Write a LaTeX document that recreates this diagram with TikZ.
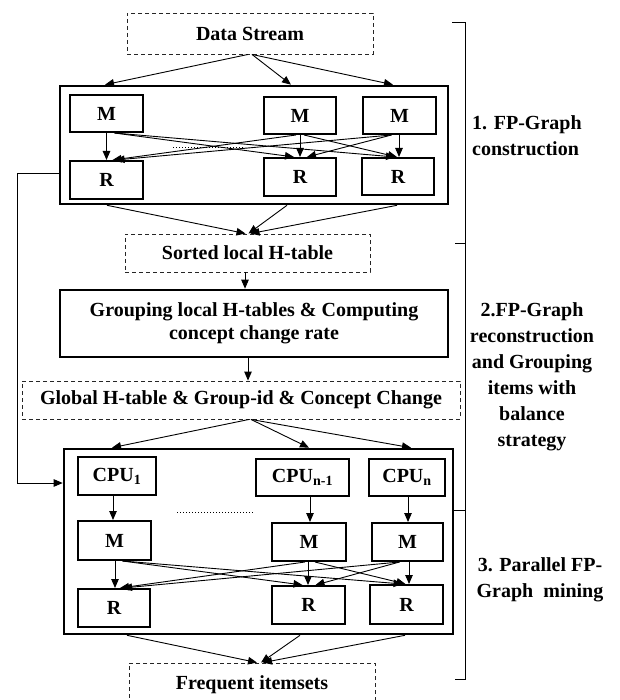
\documentclass[tikz,border=0pt]{standalone}
\usepackage{fontspec}
\setmainfont{Liberation Serif}
\usetikzlibrary{arrows.meta,calc}

\tikzset{
  dbox/.style={draw=black!85, line width=0.9pt, dash pattern=on 4pt off 3pt,
    inner sep=0pt, font=\fontsize{20}{24}\selectfont\bfseries},
  bigbox/.style={draw=black, line width=2.6pt, inner sep=0pt,
    font=\fontsize{20}{23}\selectfont\bfseries, align=center},
  unit/.style={draw=black, line width=2pt, inner sep=0pt,
    font=\fontsize{20}{24}\selectfont\bfseries},
  arr/.style={-{Triangle[length=9pt,width=7.5pt]}, line width=0.9pt, black},
  link/.style={line width=0.9pt, black},
  phase/.style={inner sep=0pt, font=\fontsize{20}{26}\selectfont\bfseries}
}

\begin{document}
\begin{tikzpicture}[x=1pt, y=-1pt]
\clip (0,0) rectangle (619,700);
\fill[white] (0,0) rectangle (619,700);

% ---- stage 1: FP-Graph construction ----
\node[dbox, minimum width=246, minimum height=41] (ds) at (250,33.5) {Data Stream};
\node[bigbox, minimum width=388, minimum height=118] (box1) at (254,145) {};
\node[unit, minimum width=73, minimum height=37] (m1) at (106.5,113.5) {M};
\node[unit, minimum width=72, minimum height=37] (m2) at (300,115.5) {M};
\node[unit, minimum width=73, minimum height=37] (m3) at (399.5,115.5) {M};
\node[unit, minimum width=73, minimum height=38] (r1) at (106.5,180) {R};
\node[unit, minimum width=72, minimum height=38] (r2) at (300,177) {R};
\node[unit, minimum width=72, minimum height=37] (r3) at (398,176.5) {R};
\draw[dotted, line width=1pt] (173,148) -- (245,148);

\draw[arr] ($(ds.south)+(-2,0)$) -- (105,0 |- box1.north);
\draw[arr] ($(ds.south)+(2,0)$) -- (291,0 |- box1.north);
\draw[arr] ($(ds.south)+(2,0)$) -- (393,0 |- box1.north);

% map outputs to every reducer
\draw[arr] (m1.south) -- (r1.north);
\draw[arr] (m2.south) -- (r2.north);
\draw[arr] (399,0 |- m3.south) -- (399,0 |- r3.north);
\draw[arr] ($(m1.south)+(8,0)$) -- ($(r2.north)+(-6,0)$);
\draw[arr] ($(m1.south)+(8,0)$) -- ($(r3.north)+(-3,0)$);
\draw[arr] ($(m2.south)+(-4,0)$) -- ($(r1.north)+(6,0)$);
\draw[arr] ($(m2.south)+(4,0)$) -- ($(r3.north)+(-1,0)$);
\draw[arr] ($(m3.south)+(-8,0)$) -- ($(r1.north)+(9,0)$);
\draw[arr] ($(m3.south)+(-8,0)$) -- ($(r2.north)+(7,0)$);

\node[dbox, minimum width=245, minimum height=38] (sorted) at (247.5,253) {Sorted local H-table};
\draw[arr] (107,0 |- box1.south) -- ($(sorted.north)+(-2,0)$);
\draw[arr] (287,0 |- box1.south) -- ($(sorted.north)+(1,0)$);
\draw[arr] (397,0 |- box1.south) -- ($(sorted.north)+(3,0)$);

% ---- stage 2: reconstruction and grouping ----
\node[bigbox, minimum width=388, minimum height=67] (group) at (254,323.5)
  {Grouping local H-tables \& Computing\\concept change rate};
\draw[arr] (245,0 |- sorted.south) -- (245,0 |- group.north);
\node[dbox, minimum width=438, minimum height=38] (global) at (241,400)
  {Global H-table \& Group-id \& Concept Change};
\draw[arr] (248,0 |- group.south) -- (248,0 |- global.north);

% ---- stage 3: parallel mining ----
\node[bigbox, minimum width=389, minimum height=185] (box3) at (258.5,541.5) {};
\draw[arr] ($(global.south)+(8,0)$) -- (112,0 |- box3.north);
\draw[arr] ($(global.south)+(10,0)$) -- (309,0 |- box3.north);
\draw[arr] ($(global.south)+(10,0)$) -- (411,0 |- box3.north);

\node[unit, minimum width=78, minimum height=38] (cpu1) at (117,476) {CPU\textsubscript{1}};
\node[unit, minimum width=93, minimum height=37] (cpu2) at (302.5,477.5) {CPU\textsubscript{n-1}};
\node[unit, minimum width=76, minimum height=37] (cpu3) at (407,477.5) {CPU\textsubscript{n}};
\node[unit, minimum width=73, minimum height=39] (mb1) at (114.5,540.5) {M};
\node[unit, minimum width=74, minimum height=38] (mb2) at (309,542) {M};
\node[unit, minimum width=71, minimum height=38] (mb3) at (407.5,542) {M};
\node[unit, minimum width=72, minimum height=38] (rb1) at (114,608) {R};
\node[unit, minimum width=73, minimum height=38] (rb2) at (308.5,605) {R};
\node[unit, minimum width=73, minimum height=39] (rb3) at (406.5,604.5) {R};
\draw[dotted, line width=1pt] (177,512) -- (253,512);

\draw[arr] (113,0 |- cpu1.south) -- (113,0 |- mb1.north);
\draw[arr] (310,0 |- cpu2.south) -- (310,0 |- mb2.north);
\draw[arr] (408,0 |- cpu3.south) -- (408,0 |- mb3.north);

\draw[arr] (115,0 |- mb1.south) -- (115,0 |- rb1.north);
\draw[arr] (308,0 |- mb2.south) -- (308,0 |- rb2.north);
\draw[arr] (409,0 |- mb3.south) -- (409,0 |- rb3.north);
\draw[arr] ($(mb1.south)+(8,0)$) -- ($(rb2.north)+(-6,0)$);
\draw[arr] ($(mb1.south)+(8,0)$) -- ($(rb3.north)+(-4,0)$);
\draw[arr] ($(mb2.south)+(-4,0)$) -- ($(rb1.north)+(6,0)$);
\draw[arr] ($(mb2.south)+(6,0)$) -- ($(rb3.north)+(-1,0)$);
\draw[arr] ($(mb3.south)+(-8,0)$) -- ($(rb1.north)+(9,0)$);
\draw[arr] ($(mb3.south)+(-8,0)$) -- ($(rb2.north)+(7,0)$);

\node[dbox, minimum width=246, minimum height=44] (freq) at (252,685) {Frequent itemsets};
\draw[arr] (127,0 |- box3.south) -- ($(freq.north)+(5,0)$);
\draw[arr] (300,0 |- box3.south) -- ($(freq.north)+(9,0)$);
\draw[arr] (405,0 |- box3.south) -- ($(freq.north)+(11,0)$);

% feedback of the graph into the mining stage
\coordinate (fbtop) at (17,173);
\coordinate (fbbot) at (17,483);
\draw[arr] (box1.west |- fbtop) -- (fbtop) -- (fbbot) -- (box3.west |- fbbot);

% phase bracket and labels
\coordinate (b0) at (465,22);
\coordinate (b1) at (465,243);
\coordinate (b2) at (465,510);
\coordinate (b3) at (465,679);
\draw[link] ($(b0)+(-13,0)$) -- (b0) -- (b3) -- ($(b3)+(-10,0)$);
\draw[link] ($(b1)+(-10,0)$) -- (b1);
\draw[link] ($(b2)+(-12,0)$) -- (b2);

\node[phase, anchor=west, align=left] (lab1) at (472,135.5) {1. FP-Graph\\construction};
\node[phase, align=center] (lab2) at (532,376.5)
  {2.FP-Graph\\reconstruction\\and Grouping\\items with\\balance\\strategy};
\node[phase, align=center] (lab3) at (540,580) {3. Parallel FP-\\Graph~~mining};
\end{tikzpicture}
\end{document}
